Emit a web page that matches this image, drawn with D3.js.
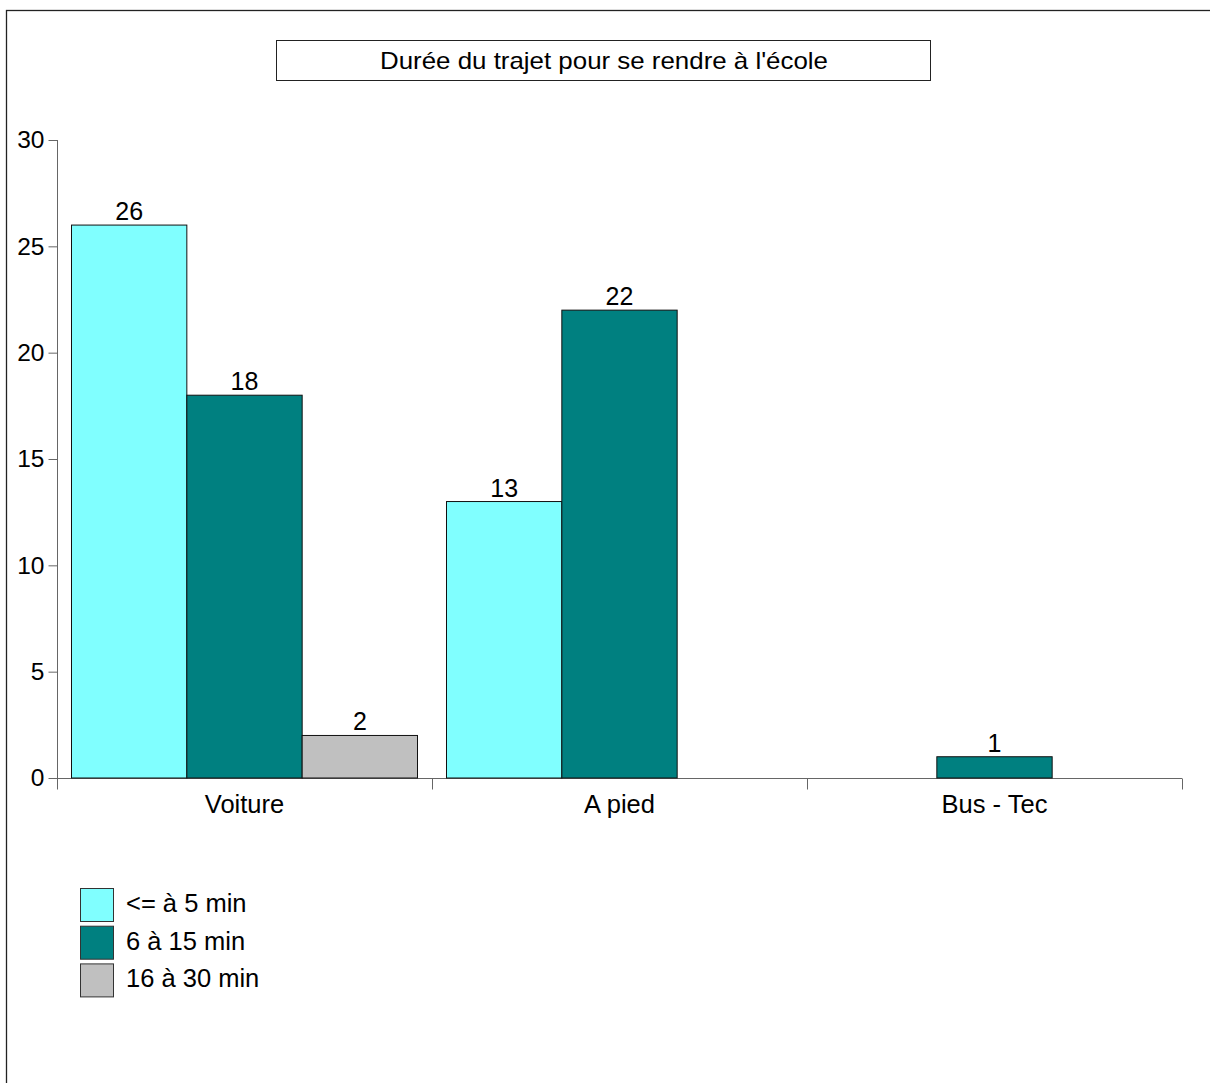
<!DOCTYPE html>
<html><head><meta charset="utf-8">
<script src="https://cdn.jsdelivr.net/npm/d3@7"></script>
<style>body{margin:0;background:#fff}svg{display:block}text{font-family:"Liberation Sans",Arial,sans-serif;fill:#000}</style>
</head><body>
<svg id="c" width="1210" height="1083"></svg>
<script>
const title = "Durée du trajet pour se rendre à l'école";
const categories = ["Voiture", "A pied", "Bus - Tec"];
const seriesNames = ["<= à 5 min", "6 à 15 min", "16 à 30 min"];
const seriesColors = ["#80FFFF", "#008080", "#C0C0C0"];
const s1 = [26, 13, null];
const s2 = [18, 22, 1];
const s3 = [2, null, null];
const yTicks = [0, 5, 10, 15, 20, 25, 30];

const series = [s1, s2, s3];
const svg = d3.select("#c");

// outer frame (extends beyond view right/bottom)
svg.append("rect").attr("x", 6.5).attr("y", 10.5).attr("width", 1300).attr("height", 1200)
  .attr("fill", "none").attr("stroke", "#222").attr("stroke-width", 1.3);

// title box
svg.append("rect").attr("x", 276.5).attr("y", 40.5).attr("width", 654).attr("height", 40)
  .attr("fill", "#fff").attr("stroke", "#222").attr("stroke-width", 1);
svg.append("text").attr("x", 380).attr("y", 69)
  .attr("font-size", 24).attr("textLength", 448).attr("lengthAdjust", "spacingAndGlyphs").text(title);

const x0 = d3.scaleBand().domain(categories).range([57, 1182]).paddingInner(0).paddingOuter(0);
const x1 = d3.scaleBand().domain([0, 1, 2]).range([0, x0.bandwidth()]).paddingOuter(0.1257).paddingInner(0);
const y = d3.scaleLinear().domain([0, 30]).range([778, 140]);

// y axis
const gy = svg.append("g").attr("transform", "translate(57.5,0)")
  .call(d3.axisLeft(y).tickValues(yTicks).tickSize(9).tickPadding(4));
gy.select(".domain").attr("stroke", "#666").attr("d", "M0," + y(30) + "V" + 789);
gy.selectAll(".tick line").attr("stroke", "#666");
gy.selectAll(".tick text").attr("font-size", 24.5).attr("font-family", "Liberation Sans, Arial, sans-serif").attr("fill", "#000");

// x axis
const gx = svg.append("g").attr("transform", "translate(0,778.5)");
gx.append("line").attr("x1", 57).attr("x2", 1182).attr("stroke", "#666");
const bounds = categories.map(c => x0(c)).concat([x0.range()[1]]);
gx.selectAll("line.t").data(bounds).join("line").attr("class", "t")
  .attr("x1", d => d + 0.5).attr("x2", d => d + 0.5).attr("y1", 0).attr("y2", 11).attr("stroke", "#666");
gx.selectAll("text").data(categories).join("text")
  .attr("x", d => x0(d) + x0.bandwidth() / 2).attr("y", 34)
  .attr("text-anchor", "middle").attr("font-size", 25.5).text(d => d);

// bars
const data = [];
categories.forEach((c, ci) => series.forEach((s, si) => {
  if (s[ci] != null) data.push({ c, si, v: s[ci] });
}));
const bars = svg.append("g");
bars.selectAll("rect").data(data).join("rect")
  .attr("x", d => x0(d.c) + x1(d.si))
  .attr("y", d => y(d.v))
  .attr("width", x1.bandwidth())
  .attr("height", d => y(0) - y(d.v))
  .attr("fill", d => seriesColors[d.si])
  .attr("stroke", "#111").attr("stroke-width", 1);
bars.selectAll("text").data(data).join("text")
  .attr("x", d => x0(d.c) + x1(d.si) + x1.bandwidth() / 2)
  .attr("y", d => y(d.v) - 5)
  .attr("text-anchor", "middle").attr("font-size", 25).text(d => d.v);

// legend
const lg = svg.append("g");
seriesNames.forEach((n, i) => {
  const yy = 888 + i * 37.7;
  lg.append("rect").attr("x", 80.5).attr("y", yy + 0.5).attr("width", 33).attr("height", 33)
    .attr("fill", seriesColors[i]).attr("stroke", "#333");
  lg.append("text").attr("x", 126).attr("y", yy + 24).attr("font-size", 25.5).text(n);
});
</script>
</body></html>
